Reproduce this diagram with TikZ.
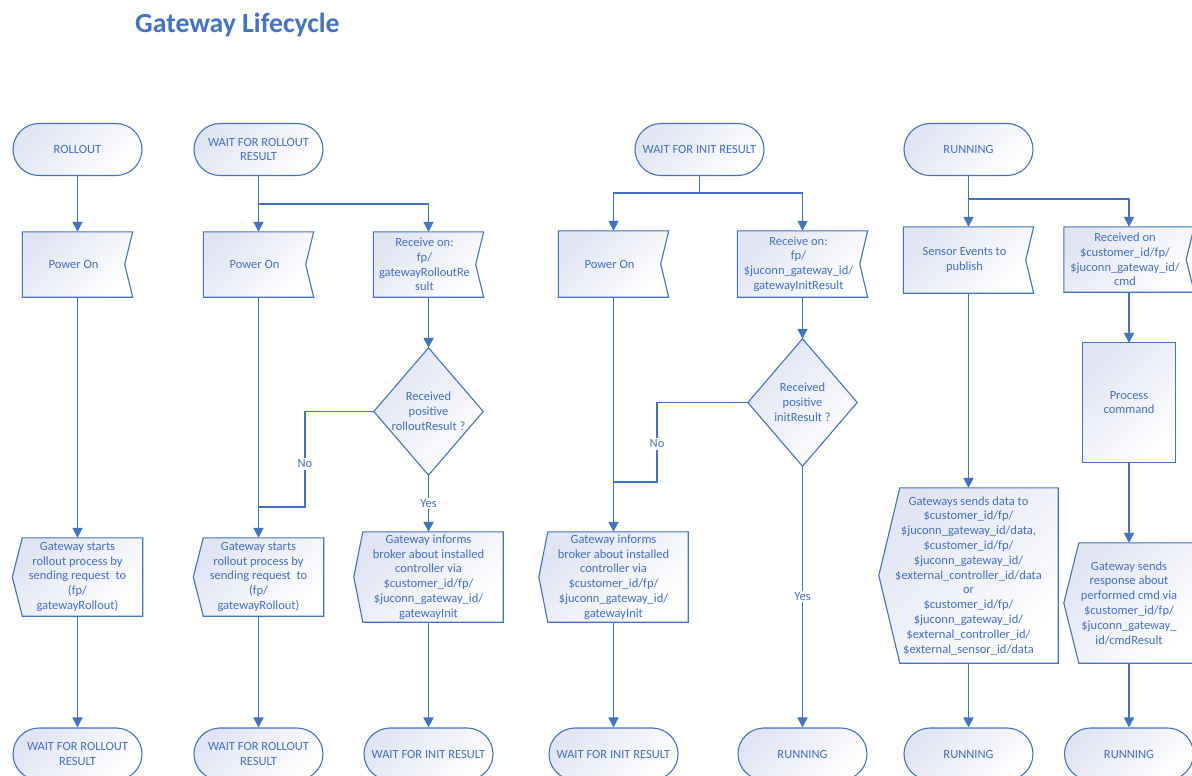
\documentclass[tikz,border=0pt]{standalone}
\usepackage{fontspec}
\setmainfont{Carlito}
\usetikzlibrary{arrows.meta,backgrounds}
\definecolor{vline}{HTML}{4472C4}
\definecolor{vtext}{HTML}{4670C0}
\definecolor{vfill}{HTML}{E1E4F3}
\tikzset{
  every node/.style={font=\fontsize{12.5}{14.8}\selectfont, text=vtext},
  bx/.style 2 args={rectangle, inner sep=0pt, align=center, minimum width=#1, minimum height=#2},
  grad/.style={top color=vfill, bottom color=white, shading angle=45},
  term/.style={bx={129pt}{52pt}, draw=vline, line width=1.1pt, rounded corners=26pt, grad},
  shp/.style={draw=vline, line width=1.1pt, grad},
  conn/.style={draw=vline, line width=1.7pt},
  arr/.style={conn, -{Triangle[length=10pt,width=10pt]}},
  lbl/.style={fill=white, inner sep=1.5pt}
}
\begin{document}
\begin{tikzpicture}[x=1pt,y=-1pt]
\useasboundingbox (0,0) rectangle (1192,776);

% title
\node[anchor=base west, inner sep=0pt, font=\fontsize{27.7}{33}\selectfont\bfseries, text=vline] (title) at (135,33) {Gateway Lifecycle};

% top terminators
\node[term] (t1) at (77.5,149.5) {ROLLOUT};
\node[term] (t2) at (258.5,149.5) {WAIT FOR ROLLOUT\\RESULT};
\node[term] (t3) at (699.5,149.5) {WAIT FOR INIT RESULT};
\node[term] (t4) at (968.5,149.5) {RUNNING};

% receive-type boxes (notch on the right)
\node[bx={102pt}{65pt}] (p1) at (73.5,264.5) {Power On};
\node[bx={102pt}{65pt}] (p2) at (254.5,264.5) {Power On};
\node[bx={102pt}{65pt}] (r1) at (424.5,264.5) {Receive on:\\fp/\\gatewayRolloutRe\\sult};
\node[bx={102pt}{66pt}] (p3) at (609.5,264) {Power On};
\node[bx={122pt}{66pt}] (r2) at (798.5,264) {Receive on:\\fp/\\\$juconn\_gateway\_id/\\gatewayInitResult};
\node[bx={122pt}{66pt}] (s1) at (964.5,260) {Sensor Events to\\publish};
\node[bx={122pt}{65pt}] (r3) at (1125,259.5) {Received on\\\$customer\_id/fp/\\\$juconn\_gateway\_id/\\cmd};

% decisions
\node[bx={109pt}{127pt}] (q1) at (428.5,411.5) {Received\\positive\\rolloutResult ?};
\node[bx={109pt}{127pt}] (q2) at (802.5,402.5) {Received\\positive\\initResult ?};

% process
\node[bx={92pt}{119pt}] (pc) at (1129,402.5) {Process\\command};

% send-type boxes (point on the left)
\node[bx={130pt}{78pt}] (g1) at (77.5,577) {Gateway starts\\rollout process by\\sending request~ to\\(fp/\\gatewayRollout)};
\node[bx={130pt}{78pt}] (g2) at (258.5,577) {Gateway starts\\rollout process by\\sending request~ to\\(fp/\\gatewayRollout)};
\node[bx={149pt}{90pt}] (i1) at (428.5,577) {Gateway informs\\broker about installed\\controller via\\\$customer\_id/fp/\\\$juconn\_gateway\_id/\\gatewayInit};
\node[bx={149pt}{90pt}] (i2) at (613.5,577) {Gateway informs\\broker about installed\\controller via\\\$customer\_id/fp/\\\$juconn\_gateway\_id/\\gatewayInit};
\node[bx={179pt}{175pt}] (d1) at (968.5,575.5) {Gateways sends data to\\\$customer\_id/fp/\\\$juconn\_gateway\_id/data,\\\$customer\_id/fp/\\\$juconn\_gateway\_id/\\\$external\_controller\_id/data\\or\\\$customer\_id/fp/\\\$juconn\_gateway\_id/\\\$external\_controller\_id/\\\$external\_sensor\_id/data};
\node[bx={130pt}{120pt}] (c1) at (1129,603) {Gateway sends\\response about\\performed cmd via\\\$customer\_id/fp/\\\$juconn\_gateway\_\\id/cmdResult};

% bottom terminators
\node[term] (b1) at (77.5,754) {WAIT FOR ROLLOUT\\RESULT};
\node[term] (b2) at (258.5,754) {WAIT FOR ROLLOUT\\RESULT};
\node[term] (b3) at (428.5,754) {WAIT FOR INIT RESULT};
\node[term] (b4) at (613.5,754) {WAIT FOR INIT RESULT};
\node[term] (b5) at (802.5,754) {RUNNING};
\node[term] (b6) at (968.5,754) {RUNNING};
\node[term] (b7) at (1129,754) {RUNNING};

% outlines on the background layer
\begin{scope}[on background layer]
  \fill[white] (0,0) rectangle (1192,776);
  \foreach \n in {p1,p2,r1,p3,r2,s1,r3} {
    \path[shp] (\n.north west) -- ([xshift=8pt]\n.north east) -- (\n.east)
      -- ([xshift=8pt]\n.south east) -- (\n.south west) -- cycle;
  }
  \foreach \n/\d in {g1/10,g2/10,i1/9,i2/9,d1/21,c1/15} {
    \path[shp] ([xshift=\d pt]\n.north west) -- (\n.north east) -- (\n.south east)
      -- ([xshift=\d pt]\n.south west) -- (\n.west) -- cycle;
  }
  \foreach \n in {q1,q2} {
    \path[shp] (\n.north) -- (\n.east) -- (\n.south) -- (\n.west) -- cycle;
  }
  \path[shp] (pc.north west) rectangle (pc.south east);
\end{scope}

% column 1
\draw[arr] (t1.south) -- ([xshift=4pt]p1.north);
\draw[arr] ([xshift=4pt]p1.south) -- (g1.north);
\draw[arr] (g1.south) -- (b1.north);

% columns 2-3
\coordinate (j2) at (258.5,204);
\draw[conn] (t2.south) -- (j2);
\draw[arr] (j2) -- ([xshift=4pt]p2.north);
\draw[arr] (j2) -| ([xshift=4pt]r1.north);
\draw[arr] ([xshift=4pt]p2.south) -- (g2.north);
\draw[arr] (g2.south) -- (b2.north);
\draw[arr] ([xshift=4pt]r1.south) -- (q1.north);
\coordinate (no1) at (305,507);
\draw[conn] (q1.west) -| (no1) -- (no1 -| g2.north);
\node[lbl] (nolbl1) at (305,464) {No};
\draw[arr] (q1.south) -- node[lbl] (yes1) {Yes} (i1.north);
\draw[arr] (i1.south) -- (b3.north);

% columns 4-5
\coordinate (j4) at (699.5,193);
\draw[conn] (t3.south) -- (j4);
\draw[arr] (j4) -| ([xshift=4pt]p3.north);
\draw[arr] (j4) -| ([xshift=4pt]r2.north);
\draw[arr] ([xshift=4pt]p3.south) -- (i2.north);
\coordinate (no2) at (657,482);
\draw[conn] (q2.west) -| (no2) -- (no2 -| i2.north);
\node[lbl] (nolbl2) at (657,444) {No};
\draw[arr] ([xshift=4pt]r2.south) -- (q2.north);
\draw[arr] (q2.south) -- node[lbl] (yes2) {Yes} (b5.north);
\draw[arr] (i2.south) -- (b4.north);

% columns 6-7
\coordinate (j6) at (968.5,199);
\draw[conn] (t4.south) -- (j6);
\draw[arr] (j6) -- ([xshift=4pt]s1.north);
\draw[arr] (j6) -| ([xshift=4pt]r3.north);
\draw[arr] ([xshift=4pt]s1.south) -- (d1.north);
\draw[arr] (d1.south) -- (b6.north);
\draw[arr] ([xshift=4pt]r3.south) -- (pc.north);
\draw[arr] (pc.south) -- (c1.north);
\draw[arr] (c1.south) -- (b7.north);
\end{tikzpicture}
\end{document}
